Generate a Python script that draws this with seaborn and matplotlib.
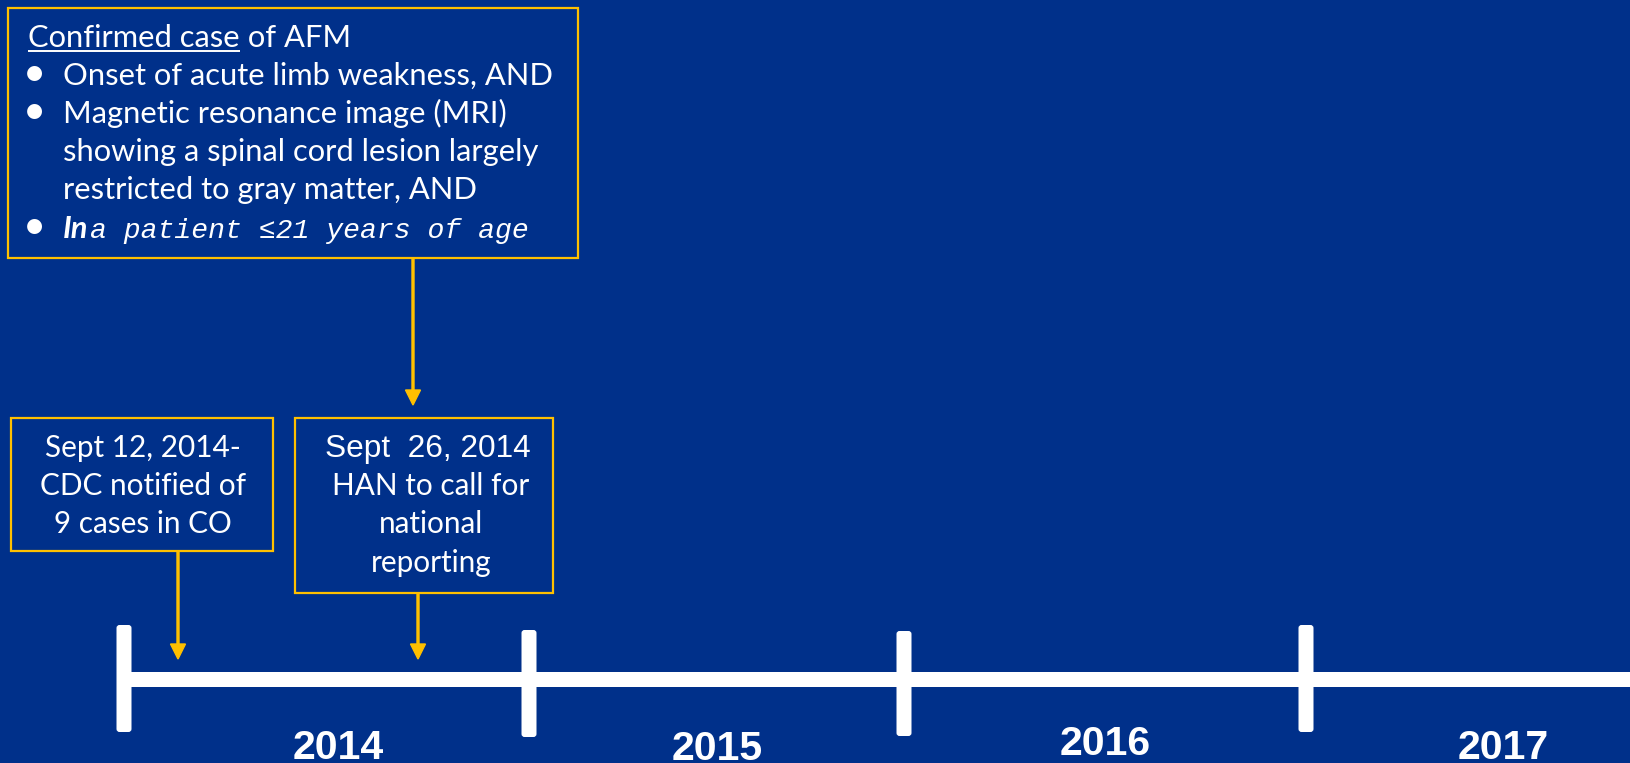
import matplotlib
matplotlib.use('Agg')
import matplotlib.pyplot as plt
import seaborn as sns
import pandas as pd
from matplotlib.patches import Rectangle, FancyBboxPatch

# ---------------- data ----------------
years = ['2014', '2015', '2016', '2017']
definition_heading = 'Confirmed case'
definition_heading_rest = ' of AFM'
criteria = [
    ['Onset of acute limb weakness, AND'],
    ['Magnetic resonance image (MRI)',
     'showing a spinal cord lesion largely',
     'restricted to gray matter, AND'],
]
age_prefix = 'In'
age_text = 'a patient \u226421 years of age'
event_1 = ['Sept 12, 2014-', 'CDC notified of', '9 cases in CO']
event_2_date = 'Sept  26, 2014'
event_2 = ['HAN to call for', 'national', 'reporting']

# ---------------- layout (pixels) ----------------
W, H = 1630, 763
NAVY = '#00308A'
GOLD = '#FFC000'
WHITE = '#FFFFFF'

line_y = 678.5
line_w_px = 15
tick_x = [124, 529, 904, 1306]
tick_top = [625, 630, 631, 625]
tick_bot = [732, 737, 736, 732]
year_x = [338, 717, 1105, 1503]
year_base = [759, 760, 755, 759]

big_box = (8, 8, 578, 258)
box1 = (11, 418, 273, 551)
box2 = (295, 418, 553, 593)

sns.set_theme(style='white')
plt.rcParams['font.family'] = ['Lato', 'DejaVu Sans']

fig = plt.figure(figsize=(W / 100, H / 100), dpi=100)
fig.patch.set_facecolor(NAVY)
ax = fig.add_axes([0, 0, 1, 1])
ax.set_facecolor(NAVY)

# timeline
tl = pd.DataFrame({'x': [tick_x[0], W + 20], 'y': [line_y, line_y]})
sns.lineplot(data=tl, x='x', y='y', color=WHITE, linewidth=line_w_px * 0.72,
             ax=ax, solid_capstyle='butt', legend=False)
for x, t, b in zip(tick_x, tick_top, tick_bot):
    ax.add_patch(FancyBboxPatch((x - 7.5, t), 15, b - t,
                                boxstyle='round,pad=0,rounding_size=3',
                                facecolor=WHITE, edgecolor='none', zorder=3))
for lab, x, yb in zip(years, year_x, year_base):
    ax.text(x, yb, lab, ha='center', va='baseline', color=WHITE,
            fontsize=29.5, weight='bold',
            family=['Liberation Sans', 'DejaVu Sans'])

# boxes
for (x0, y0, x1, y1) in (big_box, box1, box2):
    ax.add_patch(Rectangle((x0, y0), x1 - x0, y1 - y0, facecolor='none',
                           edgecolor=GOLD, linewidth=1.6, zorder=4))

# arrows
def down_arrow(x, y0, y1):
    ax.arrow(x, y0, 0, y1 - y0, width=2.0, head_width=15, head_length=15,
             length_includes_head=True, color=GOLD, zorder=5)

down_arrow(413, big_box[3], 405)
down_arrow(178, box1[3], 659)
down_arrow(418, box2[3], 659)

ax.set_xlim(0, W)
ax.set_ylim(H, 0)
ax.axis('off')

renderer = fig.canvas.get_renderer()
inv = ax.transData.inverted()

def fit_width(t, target):
    w = t.get_window_extent(renderer).width
    t.set_fontsize(t.get_fontsize() * target / w)
    return t.get_fontsize()

# big definition box
txt_x = 63
bullet_x = 34
baselines = [47, 85, 123, 161, 199, 238]
probe = ax.text(txt_x, baselines[1], criteria[0][0], color=WHITE, fontsize=22,
                va='baseline', ha='left')
fs_big = fit_width(probe, 487)

head = ax.text(28, baselines[0], definition_heading, color=WHITE,
               fontsize=fs_big, va='baseline', ha='left')
hb = head.get_window_extent(renderer)
hx1 = inv.transform((hb.x1, hb.y0))[0]
ax.text(hx1, baselines[0], definition_heading_rest, color=WHITE,
        fontsize=fs_big, va='baseline', ha='left')
ax.plot([28, hx1], [baselines[0] + 3.5, baselines[0] + 3.5], color=WHITE,
        lw=1.4, solid_capstyle='butt')

def bullet(y):
    ax.text(bullet_x, y + 1, '\u2022', color=WHITE, fontsize=fs_big * 1.3,
            va='baseline', ha='center')

li = 1
for group in criteria:
    bullet(baselines[li])
    for k, line in enumerate(group):
        if li == 1 and k == 0:
            li += 1
            continue
        ax.text(txt_x, baselines[li], line, color=WHITE, fontsize=fs_big,
                va='baseline', ha='left')
        li += 1

bullet(baselines[5])
pre = ax.text(txt_x, baselines[5], age_prefix, color=WHITE, fontsize=fs_big,
              va='baseline', ha='left', style='italic', weight='bold')
pb = pre.get_window_extent(renderer)
px1 = inv.transform((pb.x1, pb.y0))[0]
age = ax.text(px1 + 2, baselines[5], age_text, color=WHITE, fontsize=20,
              va='baseline', ha='left', style='italic',
              family=['Liberation Mono', 'DejaVu Sans Mono', 'DejaVu Sans'])
fit_width(age, 528 - (px1 + 2))

# event box 1
b1_base = [457, 495, 533]
p1 = ax.text(143, b1_base[1], event_1[1], color=WHITE, fontsize=20,
             va='baseline', ha='center')
fs_small = fit_width(p1, 207)
for i, line in enumerate(event_1):
    if i == 1:
        continue
    ax.text(143, b1_base[i], line, color=WHITE, fontsize=fs_small,
            va='baseline', ha='center')

# event box 2
b2_base = [457, 495, 533, 572]
d2 = ax.text(428, b2_base[0], event_2_date, color=WHITE, fontsize=20,
             va='baseline', ha='center', family=['Liberation Sans', 'DejaVu Sans'])
fit_width(d2, 206)
for i, line in enumerate(event_2):
    ax.text(431, b2_base[i + 1], line, color=WHITE, fontsize=fs_small,
            va='baseline', ha='center')

fig.savefig('out.png', dpi=100, facecolor=NAVY)
